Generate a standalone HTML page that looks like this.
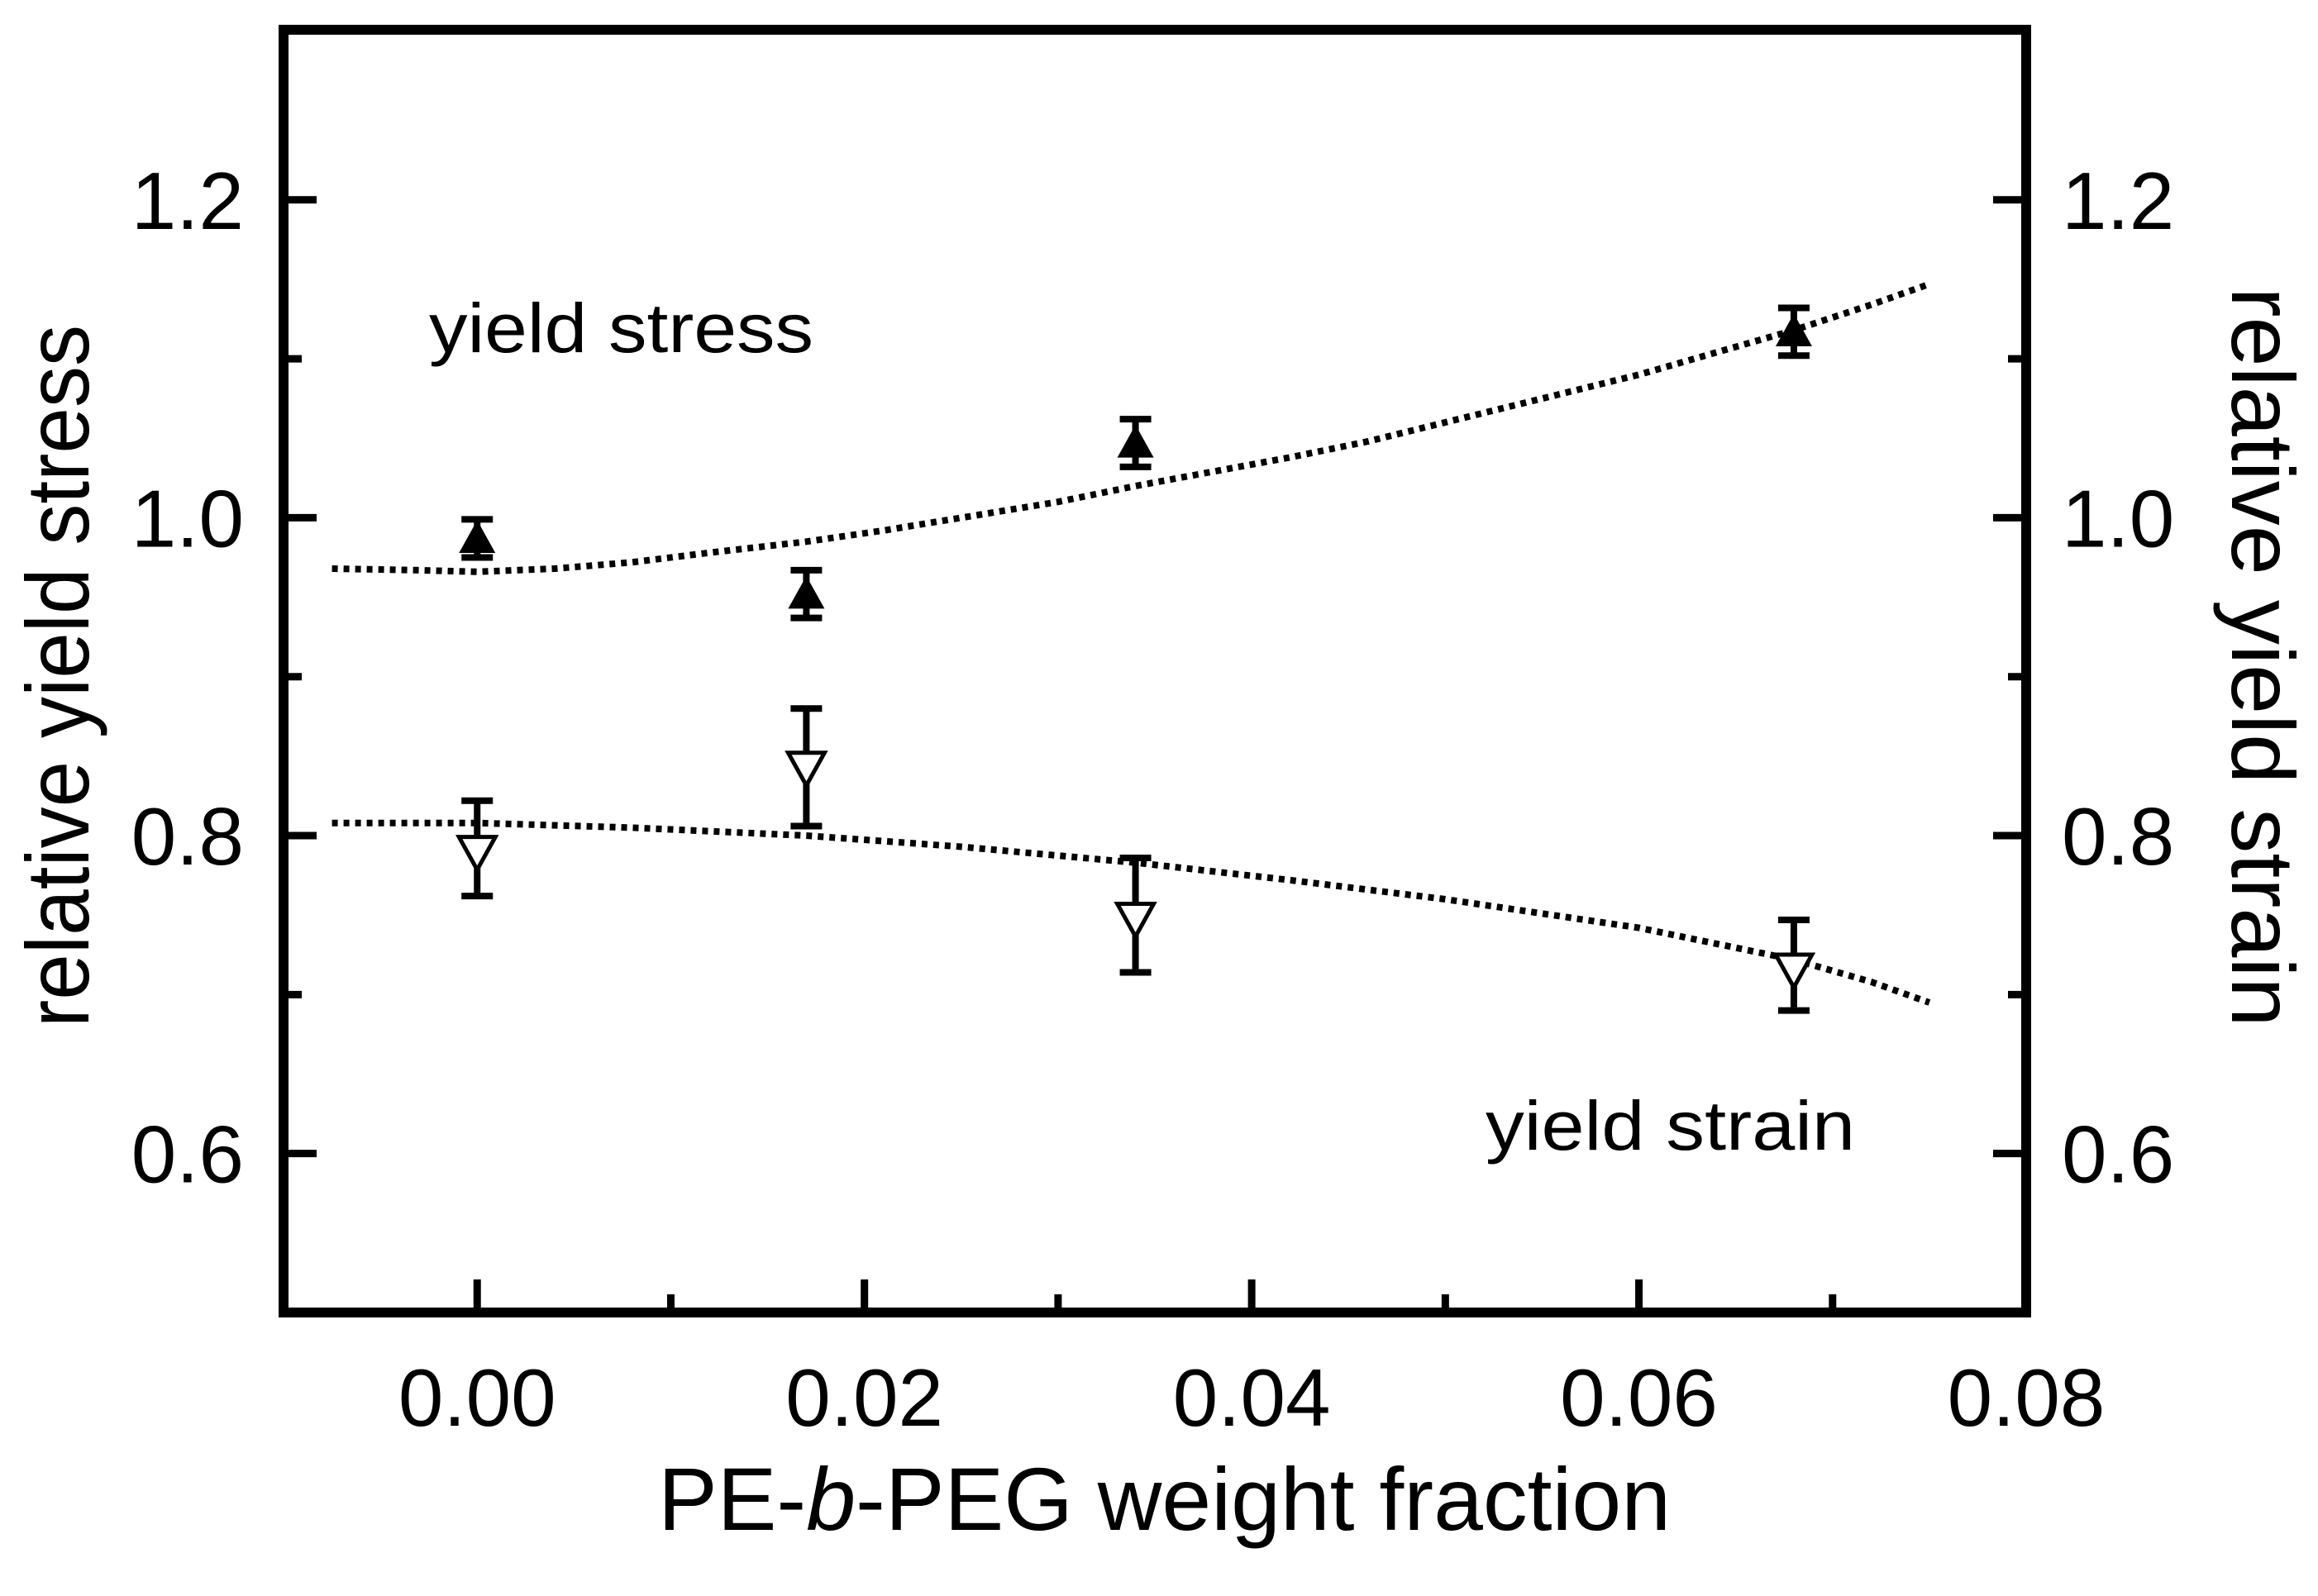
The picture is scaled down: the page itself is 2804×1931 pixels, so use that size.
<!DOCTYPE html>
<html><head><meta charset="utf-8"><style>
html,body{margin:0;padding:0;background:#fff;}
svg{display:block;}
text{font-family:"Liberation Sans",Arial,sans-serif;fill:#000;}
</style></head><body>
<svg id="chart" width="2804" height="1931" viewBox="0 0 2804 1931" xmlns="http://www.w3.org/2000/svg">
<g id="plot"></g>
</svg>
<script>
// data
const xVals = [0, 0.017, 0.034, 0.068];
const stressY = [0.987, 0.952, 1.047, 1.117];
const stressLo = [0.975, 0.937, 1.032, 1.102];
const stressHi = [0.999, 0.967, 1.062, 1.132];
const strainY = [0.790, 0.843, 0.748, 0.716];
const strainLo = [0.762, 0.806, 0.714, 0.690];
const strainHi = [0.822, 0.880, 0.786, 0.747];
const stressFitX = [-0.0075, -0.003, 0, 0.004, 0.008, 0.012, 0.017, 0.021, 0.025, 0.03, 0.034, 0.038, 0.042, 0.046, 0.05, 0.055, 0.06, 0.064, 0.068, 0.072, 0.075];
const stressFitY = [0.968, 0.967, 0.966, 0.968, 0.972, 0.978, 0.985, 0.992, 1.0, 1.01, 1.02, 1.029, 1.038, 1.048, 1.06, 1.075, 1.09, 1.104, 1.118, 1.134, 1.147];
const strainFitX = [-0.0075, 0, 0.008, 0.017, 0.025, 0.034, 0.042, 0.05, 0.06, 0.068, 0.072, 0.075];
const strainFitY = [0.808, 0.808, 0.805, 0.800, 0.793, 0.783, 0.772, 0.760, 0.742, 0.722, 0.708, 0.695];
const xTicks = [0, 0.02, 0.04, 0.06, 0.08];
const xTickLabels = ["0.00", "0.02", "0.04", "0.06", "0.08"];
const xMinor = [0.01, 0.03, 0.05, 0.07];
const yTicks = [0.6, 0.8, 1.0, 1.2];
const yTickLabels = ["0.6", "0.8", "1.0", "1.2"];
const yMinor = [0.7, 0.9, 1.1];

const L=343, R=2451, B=1588, T=36;
const xMin=-0.01, xMax=0.08, yMin=0.5, yMax=1.307;
const X = v => L + (v - xMin) / (xMax - xMin) * (R - L);
const Y = v => B - (v - yMin) / (yMax - yMin) * (B - T);
const NS = "http://www.w3.org/2000/svg";
const g = document.getElementById('plot');
function mk(tag, attrs, parent){const e=document.createElementNS(NS,tag);for(const k in attrs)e.setAttribute(k,attrs[k]);(parent||g).appendChild(e);return e;}

let e;
e = mk('rect',{x:L,y:T,width:R-L,height:B-T,fill:'none',stroke:'#000','stroke-width':12});



xTicks.forEach((v,i)=>{
  e = mk('line',{x1:X(v),x2:X(v),y1:B,y2:B-40,stroke:'#000','stroke-width':9});
  
  
  e = mk('text',{x:X(v),y:1725,'font-size':98,'text-anchor':'middle'});
  e.textContent = xTickLabels[i];
  
  
});
xMinor.forEach(v=>{
  e = mk('line',{x1:X(v),x2:X(v),y1:B,y2:B-22,stroke:'#000','stroke-width':9});
  
  
});
yTicks.forEach((v,i)=>{
  e = mk('line',{x1:L,x2:L+40,y1:Y(v),y2:Y(v),stroke:'#000','stroke-width':9});
  
  
  e = mk('line',{x1:R,x2:R-40,y1:Y(v),y2:Y(v),stroke:'#000','stroke-width':9});
  
  
  e = mk('text',{x:295,y:Y(v)+35,'font-size':98,'text-anchor':'end'});
  e.textContent = yTickLabels[i];
  
  
  e = mk('text',{x:2494,y:Y(v)+35,'font-size':98,'text-anchor':'start'});
  e.textContent = yTickLabels[i];
  
  
});
yMinor.forEach(v=>{
  e = mk('line',{x1:L,x2:L+22,y1:Y(v),y2:Y(v),stroke:'#000','stroke-width':9});
  
  
  e = mk('line',{x1:R,x2:R-22,y1:Y(v),y2:Y(v),stroke:'#000','stroke-width':9});
  
  
});

function fitPath(xs, ys){return xs.map((x,i)=>(i?'L':'M')+X(x).toFixed(1)+' '+Y(ys[i]).toFixed(1)).join(' ');}
e = mk('path',{d:fitPath(stressFitX,stressFitY),fill:'none',stroke:'#000','stroke-width':8,'stroke-dasharray':'7 7','stroke-linejoin':'round'});


e = mk('path',{d:fitPath(strainFitX,strainFitY),fill:'none',stroke:'#000','stroke-width':8,'stroke-dasharray':'7 7','stroke-linejoin':'round'});



function errBar(x, lo, hi, name){
  const cx=X(x), w=19;
  e = mk('path',{d:`M${cx} ${Y(lo)} L${cx} ${Y(hi)} M${cx-w} ${Y(lo)} L${cx+w} ${Y(lo)} M${cx-w} ${Y(hi)} L${cx+w} ${Y(hi)}`,stroke:'#000','stroke-width':8,fill:'none'});
  
  
}
const s=22;
xVals.forEach((x,i)=>{
  errBar(x, stressLo[i], stressHi[i], 'stress-error-bar');
  const cx=X(x), cy=Y(stressY[i]);
  e = mk('polygon',{points:`${cx},${cy-s} ${cx-s},${cy+s*0.8} ${cx+s},${cy+s*0.8}`,fill:'#000'});
  
  
  errBar(x, strainLo[i], strainHi[i], 'strain-error-bar');
  const sy=Y(strainY[i]);
  e = mk('polygon',{points:`${cx-s},${sy-s*0.8} ${cx+s},${sy-s*0.8} ${cx},${sy+s}`,fill:'#fff',stroke:'#000','stroke-width':5});
  
  
});
</script>
<svg style="position:absolute;left:0;top:0" width="2804" height="1931">
<text x="519" y="426" font-size="84" textLength="465" lengthAdjust="spacingAndGlyphs">yield stress</text>
<text x="1797" y="1391" font-size="84" textLength="447" lengthAdjust="spacingAndGlyphs">yield strain</text>
<text x="796" y="1851" font-size="108" textLength="1225" lengthAdjust="spacingAndGlyphs">PE-<tspan font-style="italic">b</tspan>-PEG weight fraction</text>
<text transform="translate(107,818) rotate(-90)" font-size="108" text-anchor="middle" textLength="850" lengthAdjust="spacingAndGlyphs">relative yield stress</text>
<text transform="translate(2700,795) rotate(90)" font-size="108" text-anchor="middle" textLength="895" lengthAdjust="spacingAndGlyphs">relative yield strain</text>
</svg>
</body></html>
